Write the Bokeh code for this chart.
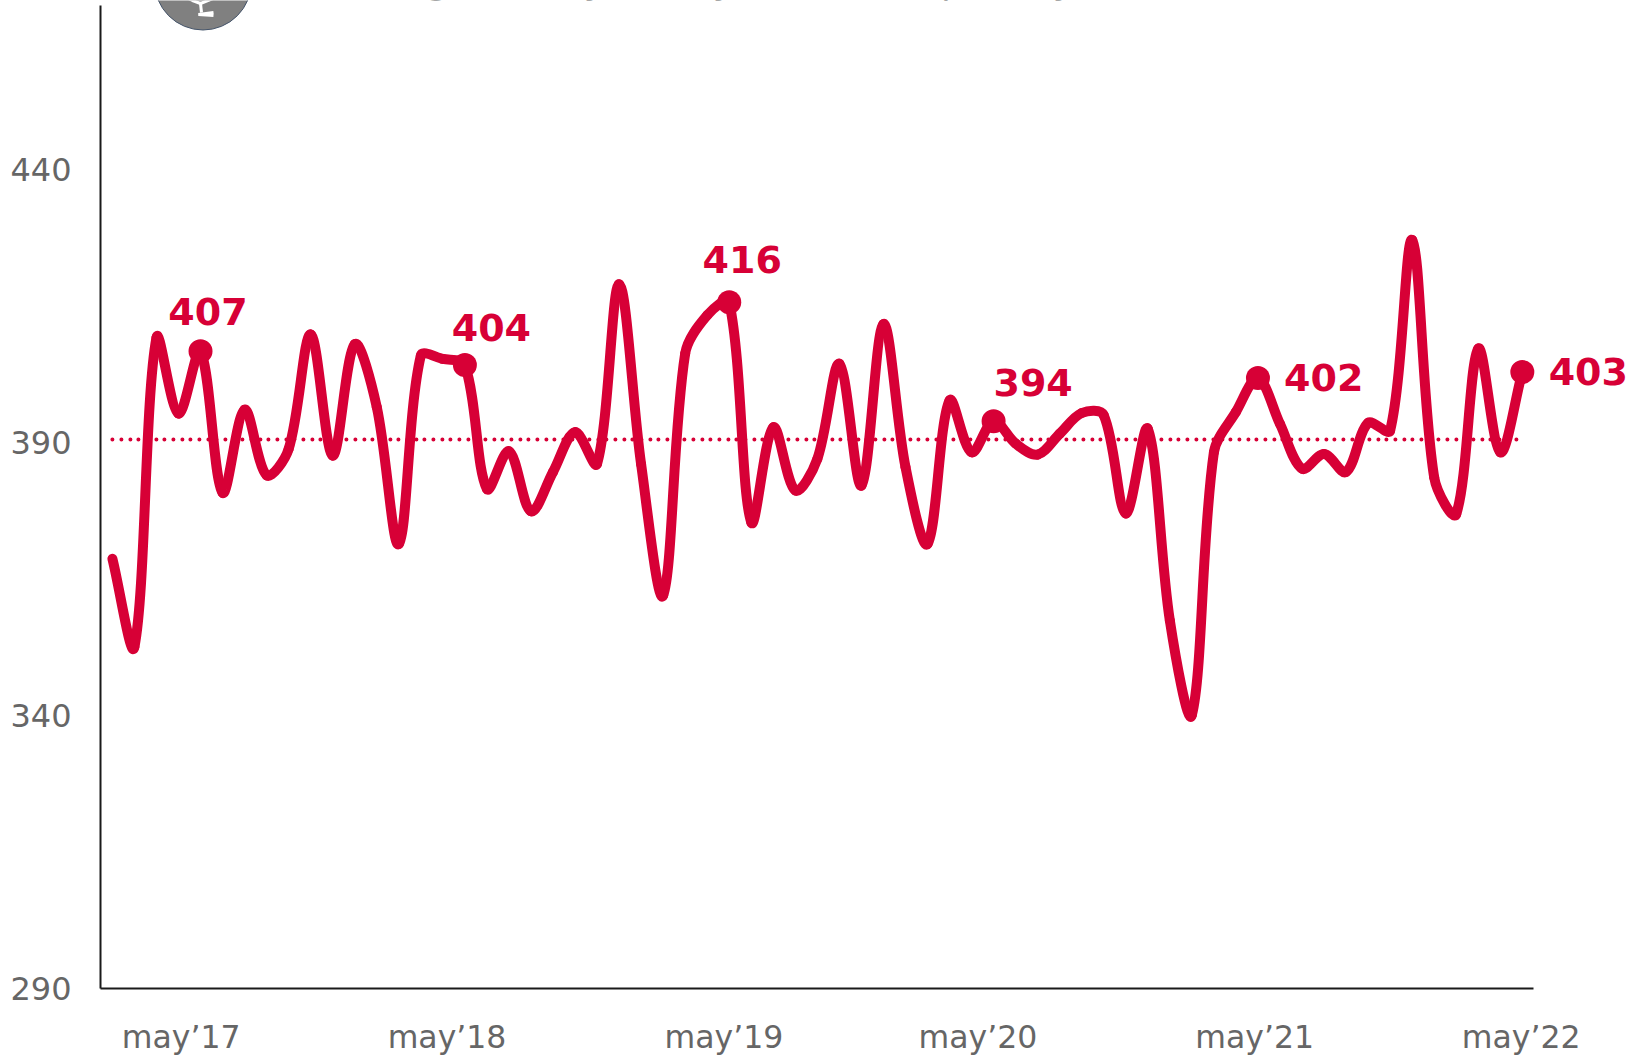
from bokeh.plotting import figure
from bokeh.embed import file_html
from bokeh.resources import INLINE
from bokeh.core.properties import value
from bokeh.models import FixedTicker, ColumnDataSource, Range1d
from math import hypot

# ---------- data ----------
monthly = [
    368.7, 352.6, 409.2, 395.3, 406.7, 380.8, 396.0, 384.0, 388.8, 409.8, 387.6, 408.0, 396.5,
    371.4, 405.9, 405.3, 404.2, 381.5, 388.4, 377.4, 384.6, 391.9, 386.1, 419.0, 386.0,
    362.0, 406.3, 413.3, 415.7, 375.4, 392.8, 381.2, 387.0, 404.4, 382.1, 411.7, 385.5,
    371.4, 397.7, 388.2, 393.9, 389.8, 387.8, 391.6, 395.4, 395.0, 377.0, 392.5, 357.4,
    340.1, 388.2, 395.6, 401.8, 393.4, 385.2, 387.9, 384.6, 393.6, 392.2, 427.1, 383.6,
    376.9, 407.2, 388.2, 402.9,
]
mean_value = 390.55
marked_months = [4, 16, 28, 40, 52, 64]
marked_labels = ["407", "404", "416", "394", "402", "403"]
y_ticks = [290, 340, 390, 440]
x_tick_labels = ["may’17", "may’18", "may’19", "may’20", "may’21", "may’22"]
title_fragments = ["g", "y", "y", "p", "y", ","]

# ---------- layout ----------
W, H = 1631, 1056
AX_L, AX_B, AX_R, AX_T = 100, 988, 1533.0, 5.3
X0, DX, DY = 111.9, 22.03, 5.46          # px of month 0, px/month, px/unit
RED, GREY = "#d70036", "#666666"
x_tick_pos = [3.12, 15.19, 27.76, 39.29, 51.85, 63.95]
label_dx = [7.5, 26.5, 13, 39.5, 65.8, 66]
label_dy = [40.2, 37.5, 42.2, 39.2, 0.1, 0.2]
FS_BOLD = "38px"

fx = lambda px: (px - X0) / DX
fy = lambda py: 290 + (AX_B - py) / DY

p = figure(width=W, height=H, output_backend="svg", toolbar_location=None,
           frame_width=W - AX_L, frame_height=AX_B,
           x_range=Range1d(fx(AX_L), fx(W)), y_range=Range1d(290, fy(0)),
           min_border_left=AX_L, min_border_right=0, min_border_top=0,
           min_border_bottom=H - AX_B, outline_line_color=None,
           background_fill_color="white", border_fill_color="white")
p.grid.visible = False

for ax, ticks, fs in ((p.xaxis[0], x_tick_pos, "31.5px"), (p.yaxis[0], y_ticks, "32px")):
    ax.ticker = FixedTicker(ticks=ticks)
    ax.major_tick_line_color = None
    ax.minor_tick_line_color = None
    ax.axis_line_color = "#1a1a1a"
    ax.axis_line_width = 2
    ax.major_label_text_color = GREY
    ax.major_label_text_font = "DejaVu Sans"
    ax.major_label_text_font_size = fs
p.xaxis[0].major_label_overrides = {t: s for t, s in zip(x_tick_pos, x_tick_labels)}
p.xaxis[0].major_label_standoff = 24
p.xaxis[0].bounds = (fx(AX_L), fx(AX_R))
p.yaxis[0].major_label_standoff = 23
p.yaxis[0].bounds = (290, fy(AX_T))

# logo (cut by top of picture)
p.scatter([fx(202.5)], [fy(-19)], size=97, marker="circle",
          fill_color="#808080", line_color="#44546a", line_width=1)
bird = [[(186, -3), (192, 0), (200, 3), (215, -3)], [(200, 3), (201, 12)],
        [(198, 14), (213, 12)], [(198, 14), (213, 15)]]
p.multi_line([[fx(a) for a, _ in s] for s in bird], [[fy(b) for _, b in s] for s in bird],
             line_color="white", line_width=3)

# cropped headline: only descenders remain
p.text(x=[fx(v) for v in (437, 594, 723, 952, 1063, 1076)], y=[fy(-19)] * 6, text=title_fragments,
       text_color="#595959", text_font=value("DejaVu Sans"), text_font_size="36px",
       text_align="center", text_baseline="alphabetic")

# mean line
p.line([0, len(monthly) - 1], [mean_value, mean_value], line_color=RED, line_width=4,
       line_dash="0 9 0 9 0 8", line_cap="round")

# smoothed series: bezier pieces from the monthly values, arms weighted by chord length
n = len(monthly)
xs = list(range(n))
chord = [hypot(DX, (monthly[i + 1] - monthly[i]) * DY) for i in range(n - 1)]


def arm(i, forward):
    a, b = max(0, i - 1), min(n - 1, i + 1)
    if i == 0 or i == n - 1:
        w = 1 / 3
        return (xs[b] - xs[a]) * w, (monthly[b] - monthly[a]) * w
    d0, d1 = chord[i - 1], chord[i]
    w = (d1 if forward else d0) / (d0 + d1) / 3
    return (xs[b] - xs[a]) * w, (monthly[b] - monthly[a]) * w


fw = [arm(i, True) for i in range(n)]
bw = [arm(i, False) for i in range(n)]
src = ColumnDataSource(dict(
    x0=xs[:-1], y0=monthly[:-1], x1=xs[1:], y1=monthly[1:],
    cx0=[xs[i] + fw[i][0] for i in range(n - 1)],
    cy0=[monthly[i] + fw[i][1] for i in range(n - 1)],
    cx1=[xs[i + 1] - bw[i + 1][0] for i in range(n - 1)],
    cy1=[monthly[i + 1] - bw[i + 1][1] for i in range(n - 1)],
))
p.bezier(x0="x0", y0="y0", x1="x1", y1="y1", cx0="cx0", cy0="cy0", cx1="cx1", cy1="cy1",
         source=src, line_color=RED, line_width=10, line_cap="round")

# marked points and their labels
mx = marked_months
my = [monthly[i] for i in marked_months]
p.scatter(mx, my, size=24, marker="circle", fill_color=RED, line_color=RED, line_width=0)
p.text(x=mx, y=my, text=marked_labels, x_offset=label_dx, y_offset=[-d for d in label_dy],
       text_color=RED, text_font=value("DejaVu Sans"), text_font_style="bold",
       text_font_size=FS_BOLD, text_align="center", text_baseline="alphabetic")

open("out.html", "w").write(file_html(p, INLINE))
